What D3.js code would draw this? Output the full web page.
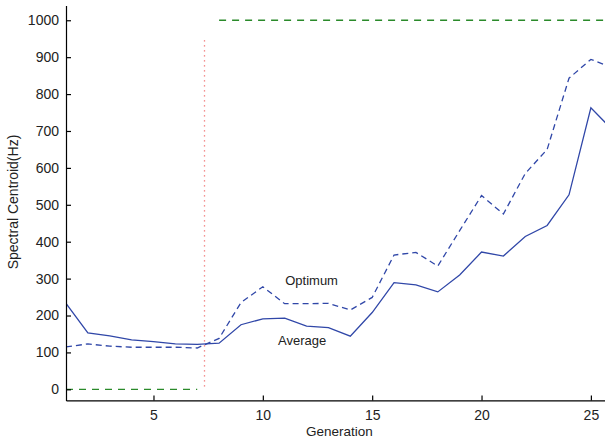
<!DOCTYPE html>
<html>
<head>
<meta charset="utf-8">
<title>Spectral Centroid</title>
<script src="https://d3js.org/d3.v7.min.js"></script>
<style>
  body { margin: 0; background: #fff; }
  svg text { font-family: "Liberation Sans", Arial, sans-serif; fill: #222; }
  .axis path, .axis line { stroke: #000; stroke-width: 1.2px; }
  .axis text { font-size: 14px; }
  .line { fill: none; stroke: #3047a8; stroke-width: 1.3px; }
</style>
</head>
<body>
<svg width="605" height="441"></svg>
<script>
var generations = d3.range(1, 27);
var average = [233, 153, 145, 134, 129, 123, 122, 125, 175, 191, 193, 171, 167, 144, 208, 289,
               283, 264, 310, 372, 361, 414, 444, 527, 763, 702];
var optimum = [115, 123, 117, 114, 114, 114, 112, 138, 235, 278, 232, 232, 233, 215, 249, 364,
               371, 334, 430, 525, 475, 585, 650, 843, 894, 871];
var targetLow = [[1, 0], [7, 0]];
var targetHigh = [[8, 1000], [26, 1000]];
var switchGen = 7.3, switchRange = [8, 952];
var xTicks = [5, 10, 15, 20, 25];
var yTicks = [0, 100, 200, 300, 400, 500, 600, 700, 800, 900, 1000];

var svg = d3.select("svg");

var x = d3.scaleLinear().domain([1, 26]).range([66, 612.75]);
var y = d3.scaleLinear().domain([-30, 1040]).range([400.4, 5.5]);

svg.append("defs").append("clipPath").attr("id", "clip")
  .append("rect").attr("x", 66).attr("y", 0).attr("width", 546).attr("height", 401);

var plot = svg.append("g").attr("clip-path", "url(#clip)");

var line = d3.line()
    .x(function(d) { return x(d[0]); })
    .y(function(d) { return y(d[1]); });

// target levels (green dashed)
[targetLow, targetHigh].forEach(function(seg) {
  plot.append("path")
      .attr("d", line(seg))
      .attr("fill", "none")
      .attr("stroke", "#2a8a2a")
      .attr("stroke-width", 1.4)
      .attr("stroke-dasharray", "7,6");
});

// switch marker (red dotted)
var sx = Math.round(x(switchGen)) + 0.5;
plot.append("line")
    .attr("x1", sx).attr("x2", sx)
    .attr("y1", y(switchRange[0])).attr("y2", y(switchRange[1]))
    .attr("stroke", "#f07070")
    .attr("stroke-width", 1.3)
    .attr("stroke-dasharray", "1.2,3.8");

plot.append("path")
    .attr("class", "line")
    .attr("d", line(generations.map(function(g, i) { return [g, optimum[i]]; })))
    .attr("stroke-dasharray", "6,4");

plot.append("path")
    .attr("class", "line")
    .attr("d", line(generations.map(function(g, i) { return [g, average[i]]; })));

svg.append("text").attr("x", x(12.23)).attr("y", y(283))
    .attr("text-anchor", "middle").style("font-size", "13px").text("Optimum");
svg.append("text").attr("x", x(11.8)).attr("y", y(120))
    .attr("text-anchor", "middle").style("font-size", "13px").text("Average");

// axes
svg.append("g")
    .attr("class", "axis")
    .attr("transform", "translate(0," + y(-30) + ")")
    .call(d3.axisBottom(x).tickValues(xTicks).tickSizeInner(-5).tickSizeOuter(0).tickPadding(10))
    .selectAll("text").attr("fill", "#222");

svg.append("g")
    .attr("class", "axis")
    .attr("transform", "translate(" + x(1) + ",0)")
    .call(d3.axisLeft(y).tickValues(yTicks).tickFormat(d3.format("d"))
      .tickSizeInner(-5).tickSizeOuter(0).tickPadding(7))
    .selectAll("text").attr("fill", "#222");

svg.append("text")
    .attr("x", x(13.5)).attr("y", 436)
    .attr("text-anchor", "middle").style("font-size", "13.5px")
    .text("Generation");

svg.append("text")
    .attr("transform", "translate(18,202) rotate(-90)")
    .attr("text-anchor", "middle").style("font-size", "14px")
    .text("Spectral Centroid(Hz)");
</script>
</body>
</html>
